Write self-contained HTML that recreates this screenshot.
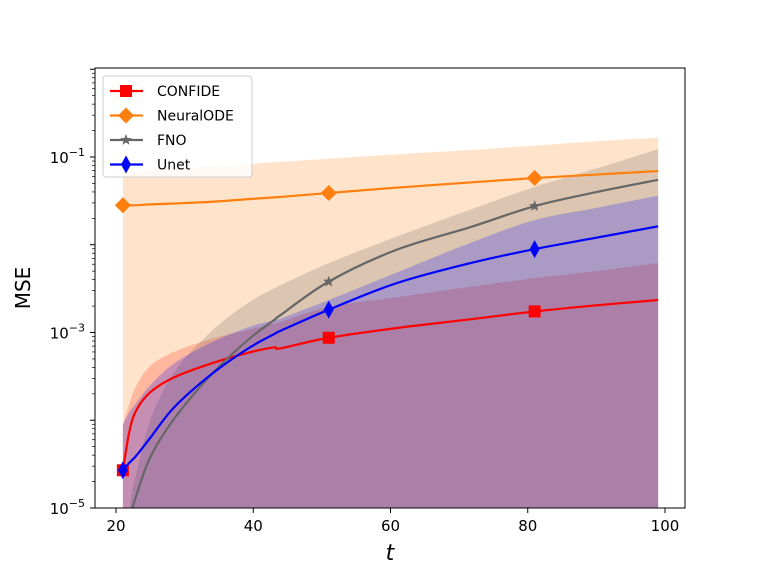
<!DOCTYPE html>
<html><head><meta charset="utf-8"><style>
body{margin:0;background:#fff}
svg{font-family:"DejaVu Sans","Liberation Sans",sans-serif}
</style></head><body>
<svg id="c" width="761" height="571"></svg>
<script>
const xs=[21,22,23,25,28.5,34,39.3,43,44,51,60.8,71.6,81,90,99];
const confide=[-4.57,-4.11,-3.88,-3.68,-3.51,-3.35,-3.23,-3.17,-3.18,-3.06,-2.95,-2.85,-2.76,-2.69,-2.63];
const confideUp=[-4.05,-3.8,-3.6,-3.38,-3.22,-3.07,-2.97,-2.9,-2.88,-2.71,-2.6,-2.48,-2.38,-2.3,-2.21];
const neural=[-1.55,-1.55,-1.55,-1.54,-1.53,-1.51,-1.48,-1.46,-1.455,-1.41,-1.35,-1.29,-1.24,-1.2,-1.16];
const neuralUp=[-1.17,-1.165,-1.16,-1.15,-1.13,-1.105,-1.08,-1.06,-1.055,-1.02,-0.97,-0.92,-0.87,-0.82,-0.78];
const fno=[-5.8,-5.15,-4.85,-4.42,-3.98,-3.47,-3.08,-2.86,-2.8,-2.42,-2.06,-1.8,-1.56,-1.4,-1.26];
const fnoUp=[-6,-5.0,-4.6,-4.0,-3.45,-2.98,-2.66,-2.5,-2.46,-2.21,-1.91,-1.6,-1.34,-1.13,-0.91];
const unet=[-4.57,-4.48,-4.4,-4.2,-3.85,-3.47,-3.18,-3.02,-2.98,-2.74,-2.44,-2.21,-2.05,-1.92,-1.79];
const unetUp=[-4.05,-3.9,-3.8,-3.6,-3.35,-3.11,-2.94,-2.86,-2.84,-2.63,-2.32,-1.98,-1.72,-1.58,-1.44];
const xTicks=[20,40,60,80,100];
const yTicks=[-1,-3,-5];
const markIdx=[0,9,12];
const NS="http://www.w3.org/2000/svg";
const svg=document.getElementById('c');
const L=95,R=685,T=68,B=508;
const X=v=>116+(v-20)*(665-116)/80;
const Y=v=>157+(-1-v)*87.75;
function el(t,a,p){const e=document.createElementNS(NS,t);for(const k in a)e.setAttribute(k,a[k]);(p||svg).appendChild(e);return e;}
function smooth(vals){
 const P=xs.map((x,i)=>[X(x),Y(vals[i])]);
 let d='';
 for(let i=0;i<P.length-1;i++){
  const p0=P[Math.max(0,i-1)],p1=P[i],p2=P[i+1],p3=P[Math.min(P.length-1,i+2)];
  const c1=[p1[0]+(p2[0]-p0[0])/6,p1[1]+(p2[1]-p0[1])/6];
  const c2=[p2[0]-(p3[0]-p1[0])/6,p2[1]-(p3[1]-p1[1])/6];
  d+=' C'+c1+' '+c2+' '+p2;
 }
 return {start:P[0],d:d};
}
const defs=el('defs',{});
const cp=el('clipPath',{id:'clip'},defs);el('rect',{x:L,y:T,width:R-L,height:B-T},cp);
const g=el('g',{'clip-path':'url(#clip)'});
function band(up,col,name){
 const s=smooth(up);
 const d='M'+X(xs[0])+','+(B+5)+' L'+s.start+s.d+' L'+X(xs[xs.length-1])+','+(B+5)+'Z';
 const p=el('path',{d:d,fill:col,'fill-opacity':0.22},g);
 
 
}
band(confideUp,'#ff0000','confide-band');
band(neuralUp,'#ff7f0e','neuralode-band');
band(fnoUp,'#606060','fno-band');
band(unetUp,'#0000ff','unet-band');
function line(vals,col,name){
 const s=smooth(vals);
 const p=el('path',{d:'M'+s.start+s.d,fill:'none',stroke:col,'stroke-width':2.2},g);
 
 
}
function marker(type,cx,cy,col,parent){
 let m;
 if(type==='s')m=el('rect',{x:cx-6,y:cy-6,width:12,height:12,fill:col},parent);
 else if(type==='D')m=el('polygon',{points:`${cx},${cy-8} ${cx+8},${cy} ${cx},${cy+8} ${cx-8},${cy}`,fill:col},parent);
 else if(type==='d')m=el('polygon',{points:`${cx},${cy-9} ${cx+5},${cy} ${cx},${cy+9} ${cx-5},${cy}`,fill:col},parent);
 else{let pts=[];for(let k=0;k<10;k++){const r=k%2?2.5:6,a=-Math.PI/2+k*Math.PI/5;pts.push((cx+r*Math.cos(a))+','+(cy+r*Math.sin(a)));}m=el('polygon',{points:pts.join(' '),fill:col},parent);}
 return m;
}
const series=[[confide,'#ff0000','s','confide'],[neural,'#ff7f0e','D','neuralode'],[fno,'#666666','*','fno'],[unet,'#0000ff','d','unet']];
series.forEach(s=>{line(s[0],s[1],s[3]+'-line');markIdx.forEach(i=>{const v=s[0][i];if(Y(v)<B){const m=marker(s[2],X(xs[i]),Y(v),s[1],g);}});});
const frame=el('rect',{x:L,y:T,width:R-L,height:B-T,fill:'none',stroke:'#000','stroke-width':1});

xTicks.forEach(t=>{const x=X(t);el('line',{x1:x,x2:x,y1:B,y2:B+5,stroke:'#000'});const tx=el('text',{x:x,y:B+23,'font-size':15,'text-anchor':'middle'});tx.textContent=t;});
for(let d=-5;d<=0;d++){for(let k=1;k<10;k++){const v=d+Math.log10(k);const y=Y(v);if(y<T||y>B)continue;el('line',{x1:L-(k===1?5:3),x2:L,y1:y,y2:y,stroke:'#000','stroke-width':k===1?1:0.7});}}
yTicks.forEach(t=>{const y=Y(t);const tx=el('text',{x:L-10,y:y+6,'font-size':15,'text-anchor':'end'});tx.innerHTML='10<tspan dy="-7" font-size="11">\u2212'+(-t)+'</tspan>';});
const xl=el('text',{x:390,y:560,'font-size':22,'font-style':'italic','text-anchor':'middle'});xl.textContent='t';
const yl=el('text',{x:30,y:288,'font-size':20,'text-anchor':'middle',transform:'rotate(-90 30 288)'});yl.textContent='MSE';
const lg=el('g',{});
el('rect',{x:103,y:76,width:149,height:101,rx:3,fill:'#fff','fill-opacity':0.8,stroke:'#ccc'},lg);
const names=['CONFIDE','NeuralODE','FNO','Unet'];
series.forEach((s,i)=>{const y=91+i*24.5;el('line',{x1:110,x2:143,y1:y,y2:y,stroke:s[1],'stroke-width':2.2},lg);marker(s[2],126,y,s[1],lg);const t=el('text',{x:157,y:y+5,'font-size':14},lg);t.textContent=names[i];});
</script>
</body></html>
